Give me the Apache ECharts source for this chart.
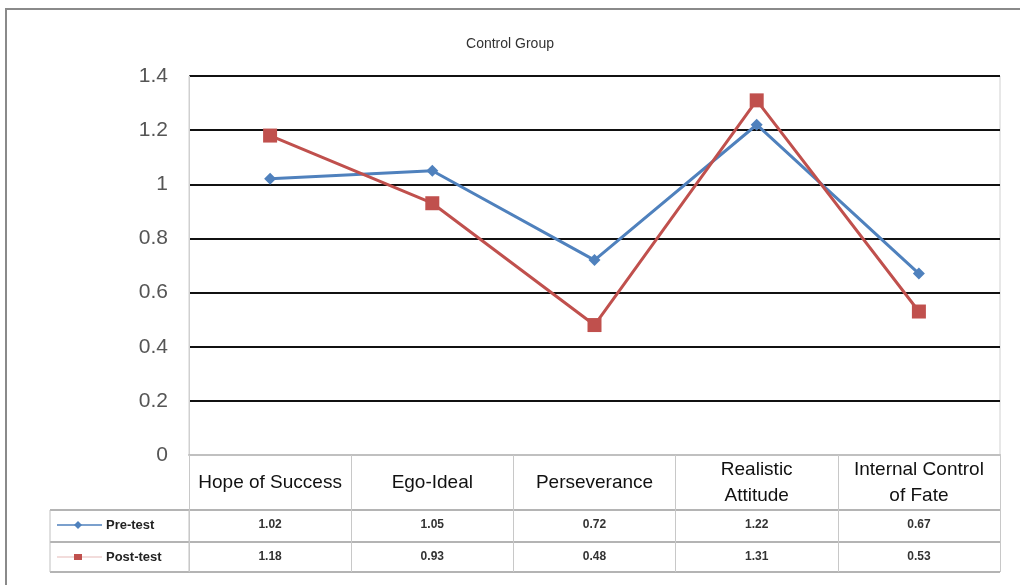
<!DOCTYPE html>
<html>
<head>
<meta charset="utf-8">
<script src="https://cdn.jsdelivr.net/npm/echarts@6/dist/echarts.min.js"></script>
<style>
  html, body { margin: 0; padding: 0; background: #fff; }
  #chart { width: 1020px; height: 585px; }
</style>
</head>
<body>
<div id="chart"></div>
<script>
// Scores per scale, control group
const categories = ['Hope of Success', 'Ego-Ideal', 'Perseverance', 'Realistic\nAttitude', 'Internal Control\nof Fate'];
const seriesNames = ['Pre-test', 'Post-test'];
const preTest = [1.02, 1.05, 0.72, 1.22, 0.67];
const postTest = [1.18, 0.93, 0.48, 1.31, 0.53];

const BLUE = '#4F81BD';
const RED = '#C0504D';
const FONT = '"Liberation Sans", Arial, sans-serif';

const chart = echarts.init(document.getElementById('chart'));

chart.setOption({
  animation: false,
  backgroundColor: '#fff',
  title: {
    text: 'Control Group',
    left: 'center',
    top: 32,
    textStyle: { fontFamily: FONT, fontSize: 14, fontWeight: 'normal', color: '#333' }
  },
  grid: {
    left: 189, right: 20, top: 76, bottom: 130,
    show: true, borderColor: '#d0d0d0', borderWidth: 1
  },
  xAxis: {
    type: 'category',
    data: categories,
    boundaryGap: true,
    axisLine: { show: true, lineStyle: { color: '#c0c0c0', width: 2 } },
    axisTick: { show: true, length: 117, lineStyle: { color: '#c8c8c8', width: 1 } },
    axisLabel: {
      margin: 28, verticalAlign: 'middle',
      fontFamily: FONT, fontSize: 19, color: '#111', lineHeight: 26,
      interval: 0
    },
    splitLine: { show: false }
  },
  yAxis: {
    type: 'value',
    min: 0, max: 1.4, interval: 0.2,
    axisLine: { show: true, lineStyle: { color: '#d0d0d0', width: 1 } },
    axisTick: { show: false },
    axisLabel: { margin: 21, fontFamily: FONT, fontSize: 21, color: '#555' },
    splitLine: { show: true, lineStyle: { color: '#111', width: 2 } }
  },
  series: [
    {
      name: seriesNames[0], type: 'line', data: preTest,
      symbol: 'diamond', symbolSize: 12,
      lineStyle: { color: BLUE, width: 3 },
      itemStyle: { color: BLUE },
      z: 3
    },
    {
      name: seriesNames[1], type: 'line', data: postTest,
      symbol: 'rect', symbolSize: 14,
      lineStyle: { color: RED, width: 3 },
      itemStyle: { color: RED },
      z: 4
    }
  ]
});

// Data table under the plot, laid out from the category axis
function buildTable() {
  const centers = categories.map((c, i) => chart.convertToPixel({ xAxisIndex: 0 }, i));
  const half = (centers[1] - centers[0]) / 2;
  const rightX = centers[centers.length - 1] + half;
  const leftX = 50;
  const colX = centers[0] - half;
  const rowTop = 510, rowMid = 542, rowBot = 572;
  const rows = [preTest, postTest];
  const rowY = [525, 557];
  const colors = [BLUE, RED];
  const g = [];
  const hLine = (y) => ({
    type: 'line', shape: { x1: leftX, y1: y, x2: rightX, y2: y },
    style: { stroke: '#b4b4b4', lineWidth: 2 }, silent: true
  });
  g.push(hLine(rowTop), hLine(rowMid), hLine(rowBot));
  [leftX, colX].forEach(x => g.push({
    type: 'line', shape: { x1: x, y1: rowTop, x2: x, y2: rowBot },
    style: { stroke: '#c0c0c0', lineWidth: 1 }, silent: true
  }));
  rows.forEach((vals, r) => {
    // legend key
    g.push({
      type: 'line', shape: { x1: 57, y1: rowY[r], x2: 102, y2: rowY[r] },
      style: { stroke: colors[r], lineWidth: r === 0 ? 1.5 : 1, opacity: r === 0 ? 1 : 0.4 }, silent: true
    });
    g.push(r === 0
      ? { type: 'polygon', shape: { points: [[78, rowY[r] - 4], [82, rowY[r]], [78, rowY[r] + 4], [74, rowY[r]]] }, style: { fill: colors[r] } }
      : { type: 'rect', shape: { x: 74, y: rowY[r] - 3, width: 8, height: 6 }, style: { fill: colors[r] } });
    g.push({
      type: 'text',
      style: {
        text: seriesNames[r], x: 106, y: rowY[r], align: 'left', verticalAlign: 'middle',
        fontFamily: FONT, fontSize: 13, fontWeight: 'bold', fill: '#222'
      }
    });
    vals.forEach((v, i) => g.push({
      type: 'text',
      style: {
        text: v.toFixed(2), x: centers[i], y: rowY[r], align: 'center', verticalAlign: 'middle',
        fontFamily: FONT, fontSize: 12, fontWeight: 'bold', fill: '#333'
      }
    }));
  });
  // outer frame of the chart area
  g.push({
    type: 'rect', shape: { x: 6, y: 9, width: 1030, height: 600 },
    style: { fill: 'none', stroke: '#8a8a8a', lineWidth: 2 }, silent: true, z: 10
  });
  chart.setOption({ graphic: g });
}
buildTable();
</script>
</body>
</html>
